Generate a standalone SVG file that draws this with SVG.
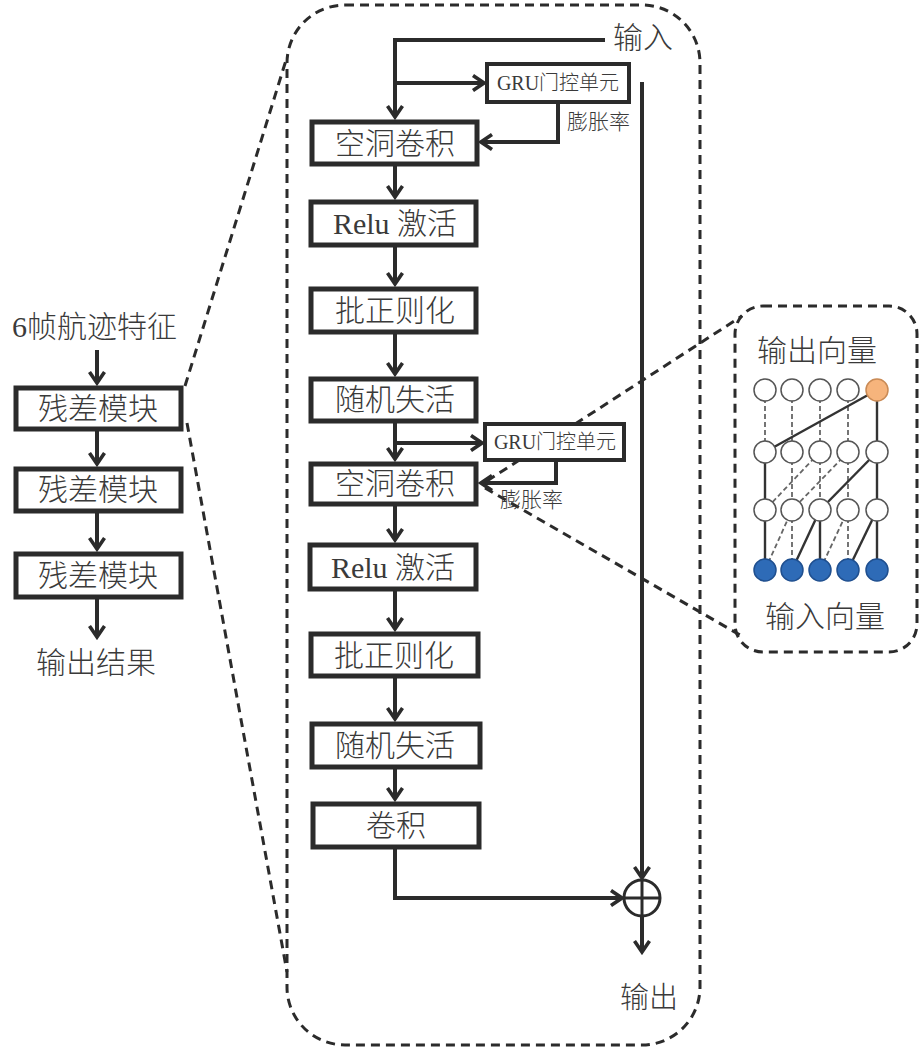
<svg xmlns="http://www.w3.org/2000/svg" width="921" height="1051" viewBox="0 0 921 1051">
<defs>
<style>
.box{fill:#fff;stroke:#2b2b2b;stroke-width:5}
.gru{fill:#fff;stroke:#2b2b2b;stroke-width:4}
.con{fill:none;stroke:#2b2b2b;stroke-width:4}
.dash{fill:none;stroke:#2b2b2b;stroke-width:3;stroke-dasharray:9 6}
.t{font-family:"Liberation Serif","Noto Sans CJK SC",serif;fill:#3a3a3a;font-size:30px;font-weight:300}
.tm{text-anchor:middle}
.s{font-size:20px}
.r{font-size:21px}
.nl{stroke:#333;stroke-width:2.4;fill:none}
.nd{stroke:#666;stroke-width:1.8;fill:none;stroke-dasharray:5 3}
.nc{fill:#fff;stroke:#555;stroke-width:1.5}
.blue{fill:#2e6bb7;stroke:#1f4f8f;stroke-width:1.5}
.orange{fill:#f6b47c;stroke:#c98a55;stroke-width:1.5}
</style>
<marker id="ah" markerUnits="userSpaceOnUse" markerWidth="16" markerHeight="18" refX="13" refY="9" orient="auto">
<path d="M2,1.5 L13,9 L2,16.5" fill="none" stroke="#2b2b2b" stroke-width="3.6"/>
</marker>
</defs>
<rect width="921" height="1051" fill="#fff"/>

<g id="frames">
<rect x="287" y="5" width="413" height="1040" rx="58" class="dash"/>
<rect x="735" y="306" width="182" height="346" rx="28" class="dash"/>
<line x1="185" y1="386" x2="287" y2="57" class="dash"/>
<line x1="187" y1="423" x2="287" y2="972" class="dash"/>
<line x1="487" y1="481" x2="742" y2="316" class="dash"/>
<line x1="485" y1="488" x2="740" y2="635" class="dash"/>
</g>

<g id="connectors">
<path d="M605,40 H395 V117" class="con" marker-end="url(#ah)"/>
<path d="M395,83 H484" class="con" marker-end="url(#ah)"/>
<path d="M558,102 V142 H481" class="con" marker-end="url(#ah)"/>
<path d="M642,82 V878" class="con" marker-end="url(#ah)"/>
<path d="M395,165 V197" class="con" marker-end="url(#ah)"/>
<path d="M395,246 V284" class="con" marker-end="url(#ah)"/>
<path d="M395,333 V374" class="con" marker-end="url(#ah)"/>
<path d="M395,422 V459" class="con" marker-end="url(#ah)"/>
<path d="M395,443 H482" class="con" marker-end="url(#ah)"/>
<path d="M556,460 V483 H481" class="con" marker-end="url(#ah)"/>
<path d="M395,505 V540" class="con" marker-end="url(#ah)"/>
<path d="M395,590 V629" class="con" marker-end="url(#ah)"/>
<path d="M395,677 V719" class="con" marker-end="url(#ah)"/>
<path d="M395,768 V799" class="con" marker-end="url(#ah)"/>
<path d="M395,848 V898 H622" class="con" marker-end="url(#ah)"/>
<path d="M642,916 V952" class="con" marker-end="url(#ah)"/>
<path d="M97,350 V383" class="con" marker-end="url(#ah)"/>
<path d="M97,430 V464" class="con" marker-end="url(#ah)"/>
<path d="M97,512 V549" class="con" marker-end="url(#ah)"/>
<path d="M97,598 V637" class="con" marker-end="url(#ah)"/>
</g>

<g id="sum">
<circle cx="642" cy="898" r="18" fill="#fff" stroke="#2b2b2b" stroke-width="3"/>
<line x1="624" y1="898" x2="660" y2="898" stroke="#2b2b2b" stroke-width="3"/>
<line x1="642" y1="880" x2="642" y2="916" stroke="#2b2b2b" stroke-width="3"/>
</g>

<g id="labels-main">
<text x="613" y="48" class="t">输入</text>
<text x="620" y="1008" class="t" style="font-size:29px">输出</text>
<text x="567" y="129" class="t r">膨胀率</text>
<text x="500" y="507" class="t r">膨胀率</text>
</g>

<g id="gru1"><rect x="487" y="64" width="142" height="38" class="gru"/><text x="558" y="90" class="t s tm">GRU门控单元</text></g>
<g id="gru2"><rect x="485" y="424" width="139" height="36" class="gru"/><text x="555" y="449" class="t s tm">GRU门控单元</text></g>

<g id="b1"><rect x="312" y="122" width="165" height="42" class="box"/><text x="395" y="154" class="t tm">空洞卷积</text></g>
<g id="b2"><rect x="311" y="202" width="165" height="43" class="box"/><text x="395" y="234" class="t tm">Relu 激活</text></g>
<g id="b3"><rect x="311" y="289" width="165" height="43" class="box"/><text x="395" y="321" class="t tm">批正则化</text></g>
<g id="b4"><rect x="311" y="379" width="165" height="42" class="box"/><text x="395" y="410" class="t tm">随机失活</text></g>
<g id="b5"><rect x="311" y="464" width="165" height="40" class="box"/><text x="395" y="494" class="t tm">空洞卷积</text></g>
<g id="b6"><rect x="310" y="545" width="166" height="44" class="box"/><text x="393" y="578" class="t tm">Relu 激活</text></g>
<g id="b7"><rect x="311" y="634" width="167" height="42" class="box"/><text x="394" y="666" class="t tm">批正则化</text></g>
<g id="b8"><rect x="312" y="724" width="168" height="43" class="box"/><text x="395" y="756" class="t tm">随机失活</text></g>
<g id="b9"><rect x="313" y="804" width="166" height="43" class="box"/><text x="396" y="836" class="t tm">卷积</text></g>

<g id="left">
<text x="12" y="337" class="t">6帧航迹特征</text>
<g id="l1"><rect x="16" y="388" width="165" height="41" class="box"/><text x="98" y="419" class="t tm">残差模块</text></g>
<g id="l2"><rect x="16" y="469" width="165" height="42" class="box"/><text x="98" y="500" class="t tm">残差模块</text></g>
<g id="l3"><rect x="16" y="554" width="165" height="43" class="box"/><text x="98" y="586" class="t tm">残差模块</text></g>
<text x="96" y="673" class="t tm">输出结果</text>
</g>

<g id="inset">
<text x="817" y="361" class="t tm">输出向量</text>
<text x="825" y="627" class="t tm">输入向量</text>
<g id="inset-lines">
<line x1="765" y1="390" x2="765" y2="452" class="nd"/>
<line x1="792" y1="390" x2="792" y2="452" class="nd"/>
<line x1="820" y1="390" x2="820" y2="452" class="nd"/>
<line x1="848" y1="390" x2="848" y2="452" class="nd"/>
<line x1="877" y1="390" x2="877" y2="452" class="nl"/>
<line x1="877" y1="390" x2="765" y2="452" class="nl"/>
<line x1="765" y1="452" x2="765" y2="510" class="nl"/>
<line x1="792" y1="452" x2="792" y2="510" class="nd"/>
<line x1="820" y1="452" x2="820" y2="510" class="nd"/>
<line x1="848" y1="452" x2="848" y2="510" class="nd"/>
<line x1="877" y1="452" x2="877" y2="510" class="nl"/>
<line x1="877" y1="452" x2="820" y2="510" class="nl"/>
<line x1="820" y1="452" x2="765" y2="510" class="nd"/>
<line x1="848" y1="452" x2="792" y2="510" class="nd"/>
<line x1="765" y1="510" x2="765" y2="570" class="nl"/>
<line x1="792" y1="510" x2="792" y2="570" class="nd"/>
<line x1="820" y1="510" x2="820" y2="570" class="nl"/>
<line x1="848" y1="510" x2="848" y2="570" class="nd"/>
<line x1="877" y1="510" x2="877" y2="570" class="nl"/>
<line x1="792" y1="570" x2="820" y2="510" class="nl"/>
<line x1="848" y1="570" x2="877" y2="510" class="nl"/>
<line x1="765" y1="570" x2="792" y2="510" class="nd"/>
<line x1="820" y1="570" x2="848" y2="510" class="nd"/>
</g>
<g id="inset-nodes">
<circle cx="765" cy="390" r="11" class="nc"/><circle cx="792" cy="390" r="11" class="nc"/><circle cx="820" cy="390" r="11" class="nc"/><circle cx="848" cy="390" r="11" class="nc"/><circle cx="877" cy="390" r="11" class="orange"/>
<circle cx="765" cy="452" r="11" class="nc"/><circle cx="792" cy="452" r="11" class="nc"/><circle cx="820" cy="452" r="11" class="nc"/><circle cx="848" cy="452" r="11" class="nc"/><circle cx="877" cy="452" r="11" class="nc"/>
<circle cx="765" cy="510" r="11" class="nc"/><circle cx="792" cy="510" r="11" class="nc"/><circle cx="820" cy="510" r="11" class="nc"/><circle cx="848" cy="510" r="11" class="nc"/><circle cx="877" cy="510" r="11" class="nc"/>
<circle cx="765" cy="570" r="11" class="blue"/><circle cx="792" cy="570" r="11" class="blue"/><circle cx="820" cy="570" r="11" class="blue"/><circle cx="848" cy="570" r="11" class="blue"/><circle cx="877" cy="570" r="11" class="blue"/>
</g>
</g>
</svg>
